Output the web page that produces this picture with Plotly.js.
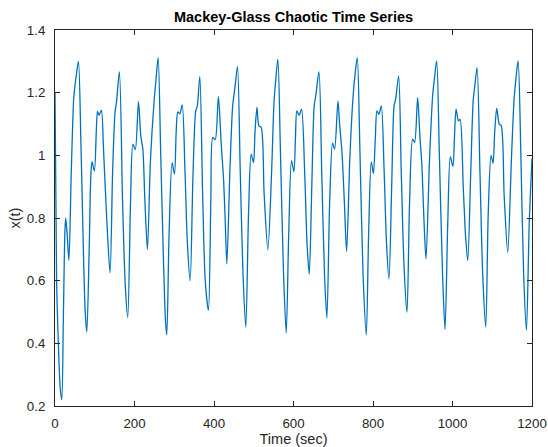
<!DOCTYPE html>
<html>
<head>
<meta charset="utf-8">
<script src="https://cdn.plot.ly/plotly-3.0.1.min.js"></script>
<style>html,body{margin:0;padding:0;background:#fff;}#chart{width:548px;height:447px;}</style>
</head>
<body>
<div id="chart"></div>
<script>
var timeSec = [0,4,9,13,17,21,25,27,31,35,41,47,50,54,59,65,71,76,80,86,90,93,99,104,107,111,116.6,122,130,138.5,145,151,155,162,170,177,183,190,196,202,210,216,221,226,232.5,240,249,254,259.4,266,273,278,281.2,287,294.6,300.5,305,309,314,320,327,333,340,347,354,358,364.3,371,378,386,392,397,403,411,418,424,428,432.3,440,447,453,459,466,473,480,487,493.5,499.4,503,508,513,518.7,526,535.5,545,551,556,560.7,567,575,581.7,588,595,601,605,608.5,614.4,620.2,628,634,639.6,646,652,656,664,671,678,684,691,698.3,703.4,711.8,716,722,728,733.6,742,750,755,760.4,767,775,783.1,789,795.7,801,806,810,815,820.8,828,834,840.2,847,853,857,864.5,871,878,885.5,892,899.7,904.7,912.3,918,923,928,933.3,942,950,955,960.2,967,975,981.2,988,994.6,1001,1005,1009,1015,1019,1027,1033,1038.3,1046,1052,1056,1061.8,1069,1076,1083.6,1090,1097,1102,1106,1111.3,1118,1122.3,1130,1139,1148,1155,1160,1165.1,1172,1179,1186,1193,1200];
var xValues = [1.20,0.60,0.38,0.26,0.22,0.48,0.76,0.80,0.74,0.665,0.95,1.18,1.22,1.26,1.30,1.05,0.72,0.50,0.436,0.70,0.93,0.98,0.95,1.08,1.14,1.128,1.144,1.02,0.80,0.625,0.95,1.137,1.174,1.266,0.85,0.58,0.483,0.85,1.036,1.018,1.171,1.06,1.02,0.86,0.699,0.98,1.168,1.24,1.312,1.0,0.66,0.47,0.427,0.75,0.977,0.94,1.08,1.139,1.132,1.161,0.95,0.72,0.60,0.93,1.142,1.158,1.251,0.90,0.60,0.505,0.85,1.057,1.05,1.188,1.04,0.924,0.80,0.653,0.95,1.158,1.22,1.283,0.95,0.62,0.452,0.82,1.004,0.977,1.07,1.153,1.094,1.089,0.88,0.699,0.95,1.17,1.25,1.307,1.02,0.62,0.433,0.75,0.983,0.948,1.06,1.142,1.128,1.147,0.95,0.72,0.621,0.90,1.158,1.19,1.266,0.95,0.62,0.481,0.85,1.039,1.02,1.174,1.10,1.009,0.85,0.693,1.00,1.19,1.26,1.312,1.02,0.62,0.427,0.75,0.979,0.942,1.06,1.142,1.131,1.158,0.95,0.72,0.605,0.90,1.158,1.18,1.253,0.95,0.65,0.499,0.85,1.052,1.041,1.184,1.06,0.967,0.80,0.669,0.98,1.19,1.25,1.301,1.00,0.62,0.444,0.78,0.995,0.965,1.06,1.147,1.11,1.115,0.90,0.74,0.664,0.95,1.174,1.22,1.28,0.95,0.62,0.452,0.82,1.0,0.975,1.07,1.15,1.098,1.096,0.87,0.69,0.98,1.18,1.25,1.301,1.0,0.62,0.441,0.78,0.99];
var xTickVals = [0,200,400,600,800,1000,1200];
var xTickText = ['0','200','400','600','800','1000','1200'];
var yTickVals = [0.2,0.4,0.6,0.8,1.0,1.2,1.4];
var yTickText = ['0.2','0.4','0.6','0.8','1','1.2','1.4'];

var axisColor = '#262626';
var fontFam = 'Liberation Sans, Arial, sans-serif';

Plotly.newPlot('chart', [{
  x: timeSec, y: xValues, type: 'scatter', mode: 'lines',
  line: {color: '#0072BD', width: 1.3, shape: 'spline', smoothing: 0.8},
  hoverinfo: 'skip'
}], {
  width: 548, height: 447,
  margin: {l: 55, r: 16, t: 30, b: 41, pad: 0},
  paper_bgcolor: '#fff', plot_bgcolor: '#fff',
  showlegend: false,
  title: {text: '<b>Mackey-Glass Chaotic Time Series</b>', font: {family: fontFam, size: 14.5, color: '#000'},
          x: 0.5, xref: 'paper', y: 1 - 17/447, yanchor: 'middle'},
  xaxis: {range: [0, 1200], tickvals: xTickVals, ticktext: xTickText,
          ticks: 'inside', ticklen: 5, tickcolor: axisColor, tickwidth: 1,
          showline: true, linecolor: axisColor, linewidth: 1, mirror: 'ticks',
          showgrid: false, zeroline: false,
          tickfont: {family: fontFam, size: 13.3, color: axisColor}, ticklabelstandoff: 5,
          title: {text: 'Time (sec)', font: {family: fontFam, size: 14.5, color: axisColor}, standoff: 4}},
  yaxis: {range: [0.2, 1.4], tickvals: yTickVals, ticktext: yTickText,
          ticks: 'inside', ticklen: 5, tickcolor: axisColor, tickwidth: 1,
          showline: true, linecolor: axisColor, linewidth: 1, mirror: 'ticks',
          showgrid: false, zeroline: false,
          tickfont: {family: fontFam, size: 13.3, color: axisColor}, ticklabelstandoff: 6,
          title: {text: 'x(t)', font: {family: fontFam, size: 14.5, color: axisColor}, standoff: 2}}
}, {staticPlot: true, displayModeBar: false});
</script>
</body>
</html>
